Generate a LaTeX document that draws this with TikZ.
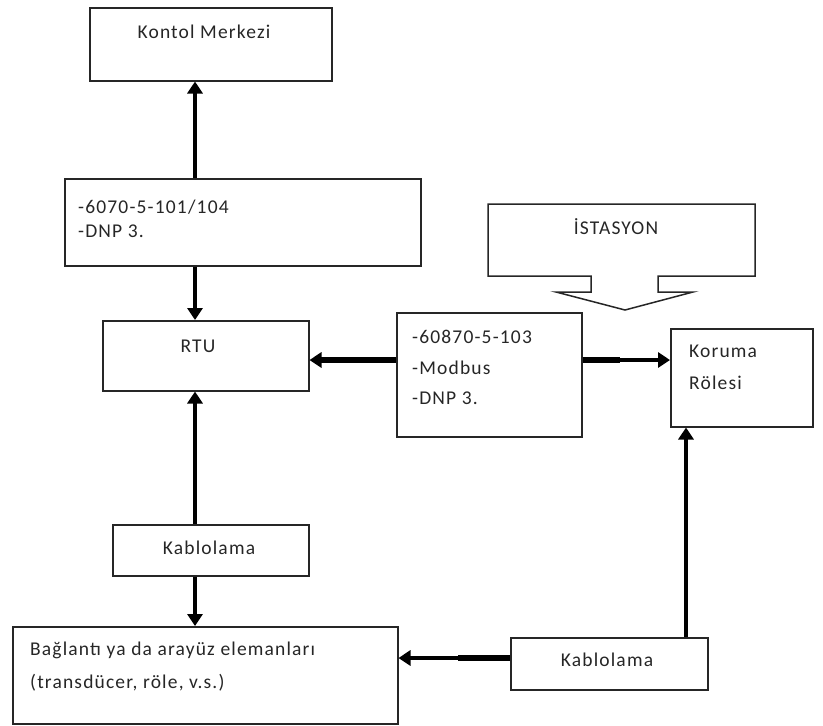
\documentclass[tikz,border=0pt]{standalone}
\usepackage{fontspec}
\setmainfont{Carlito}[LetterSpace=6]
\usetikzlibrary{arrows.meta}

\tikzset{
  box/.style={draw=black!85, line width=1.5pt, rectangle, inner sep=0pt, anchor=north west},
  lbl/.style={font=\fontsize{19.5}{23}\selectfont, text=black!85, inner sep=0pt},
  conn/.style={line width=4pt, -{Triangle[width=15pt,length=12pt]}},
  heavy/.style={line width=6pt},
  callout/.style={draw=black!85, line width=1.5pt, line join=miter}
}

\begin{document}
\begin{tikzpicture}[x=1pt, y=-1pt]
  \useasboundingbox (0,0) rectangle (823,726);

  % guide coordinates for the connectors
  \coordinate (colA) at (195,0);
  \coordinate (rowA) at (0,360);
  \coordinate (rowB) at (0,658);
  \coordinate (colB) at (686,0);

  % boxes
  \node[box, minimum width=242pt, minimum height=73pt] (kontol) at (89,7) {};
  \node[box, minimum width=356pt, minimum height=87pt] (proto) at (64,178) {};
  \node[box, minimum width=206pt, minimum height=70pt] (rtu) at (102,320) {};
  \node[box, minimum width=185pt, minimum height=124pt] (mid) at (396,312) {};
  \node[box, minimum width=142pt, minimum height=98pt] (koruma) at (670,328) {};
  \node[box, minimum width=196pt, minimum height=51pt] (kabloL) at (112,524) {};
  \node[box, minimum width=385pt, minimum height=97pt] (baglanti) at (12,626) {};
  \node[box, minimum width=197pt, minimum height=52pt] (kabloR) at (510,637) {};

  % station callout with downward arrow
  \draw[callout] (488,204) -- (755,204) -- (755,276) -- (658,276) -- (658,292)
    -- (693,292) -- (625,310) -- (556,292) -- (591,292) -- (591,276)
    -- (488,276) -- cycle;

  % texts
  \node[lbl] (kontolT) at (204,32) {Kontol Merkezi};
  \node[lbl, anchor=west] (protoA) at (78,207) {-6070-5-101/104};
  \node[lbl, anchor=west] (protoB) at (78,231) {-DNP 3.};
  \node[lbl] (rtuT) at (198,346) {RTU};
  \node[lbl] (istT) at (616,227) {İSTASYON};
  \node[lbl, anchor=west] (midA) at (412,337) {-60870-5-103};
  \node[lbl, anchor=west] (midB) at (412,368) {-Modbus};
  \node[lbl, anchor=west] (midC) at (412,398) {-DNP 3.};
  \node[lbl, anchor=west] (korA) at (689,351) {Koruma};
  \node[lbl, anchor=west] (korB) at (689,383) {Rölesi};
  \node[lbl] (kabloLT) at (209,548) {Kablolama};
  \node[lbl, anchor=west] (bagA) at (30,650) {Bağlantı ya da arayüz elemanları};
  \node[lbl, anchor=west] (bagB) at (30,683) {(transdücer, röle, v.s.)};
  \node[lbl] (kabloRT) at (607,660) {Kablolama};

  % connectors
  \draw[conn] (proto.north -| colA) -- (kontol.south -| colA);
  \draw[conn] (proto.south -| colA) -- (rtu.north -| colA);
  \draw[conn] (kabloL.north -| colA) -- (rtu.south -| colA);
  \draw[conn] (kabloL.south -| colA) -- (baglanti.north -| colA);

  \draw[conn, line width=6pt] (mid.west |- rowA) -- (rtu.east |- rowA);

  \coordinate (midR) at (620,360);
  \draw[heavy] (mid.east |- rowA) -- (midR);
  \draw[conn, line width=3.5pt] (midR) -- (koruma.west |- rowA);

  \coordinate (kabR) at (458,658);
  \draw[heavy] (kabloR.west |- rowB) -- (kabR);
  \draw[conn, line width=3.5pt] (kabR) -- (baglanti.east |- rowB);

  \draw[conn, line width=3.5pt] (kabloR.north -| colB) -- (koruma.south -| colB);
\end{tikzpicture}
\end{document}
